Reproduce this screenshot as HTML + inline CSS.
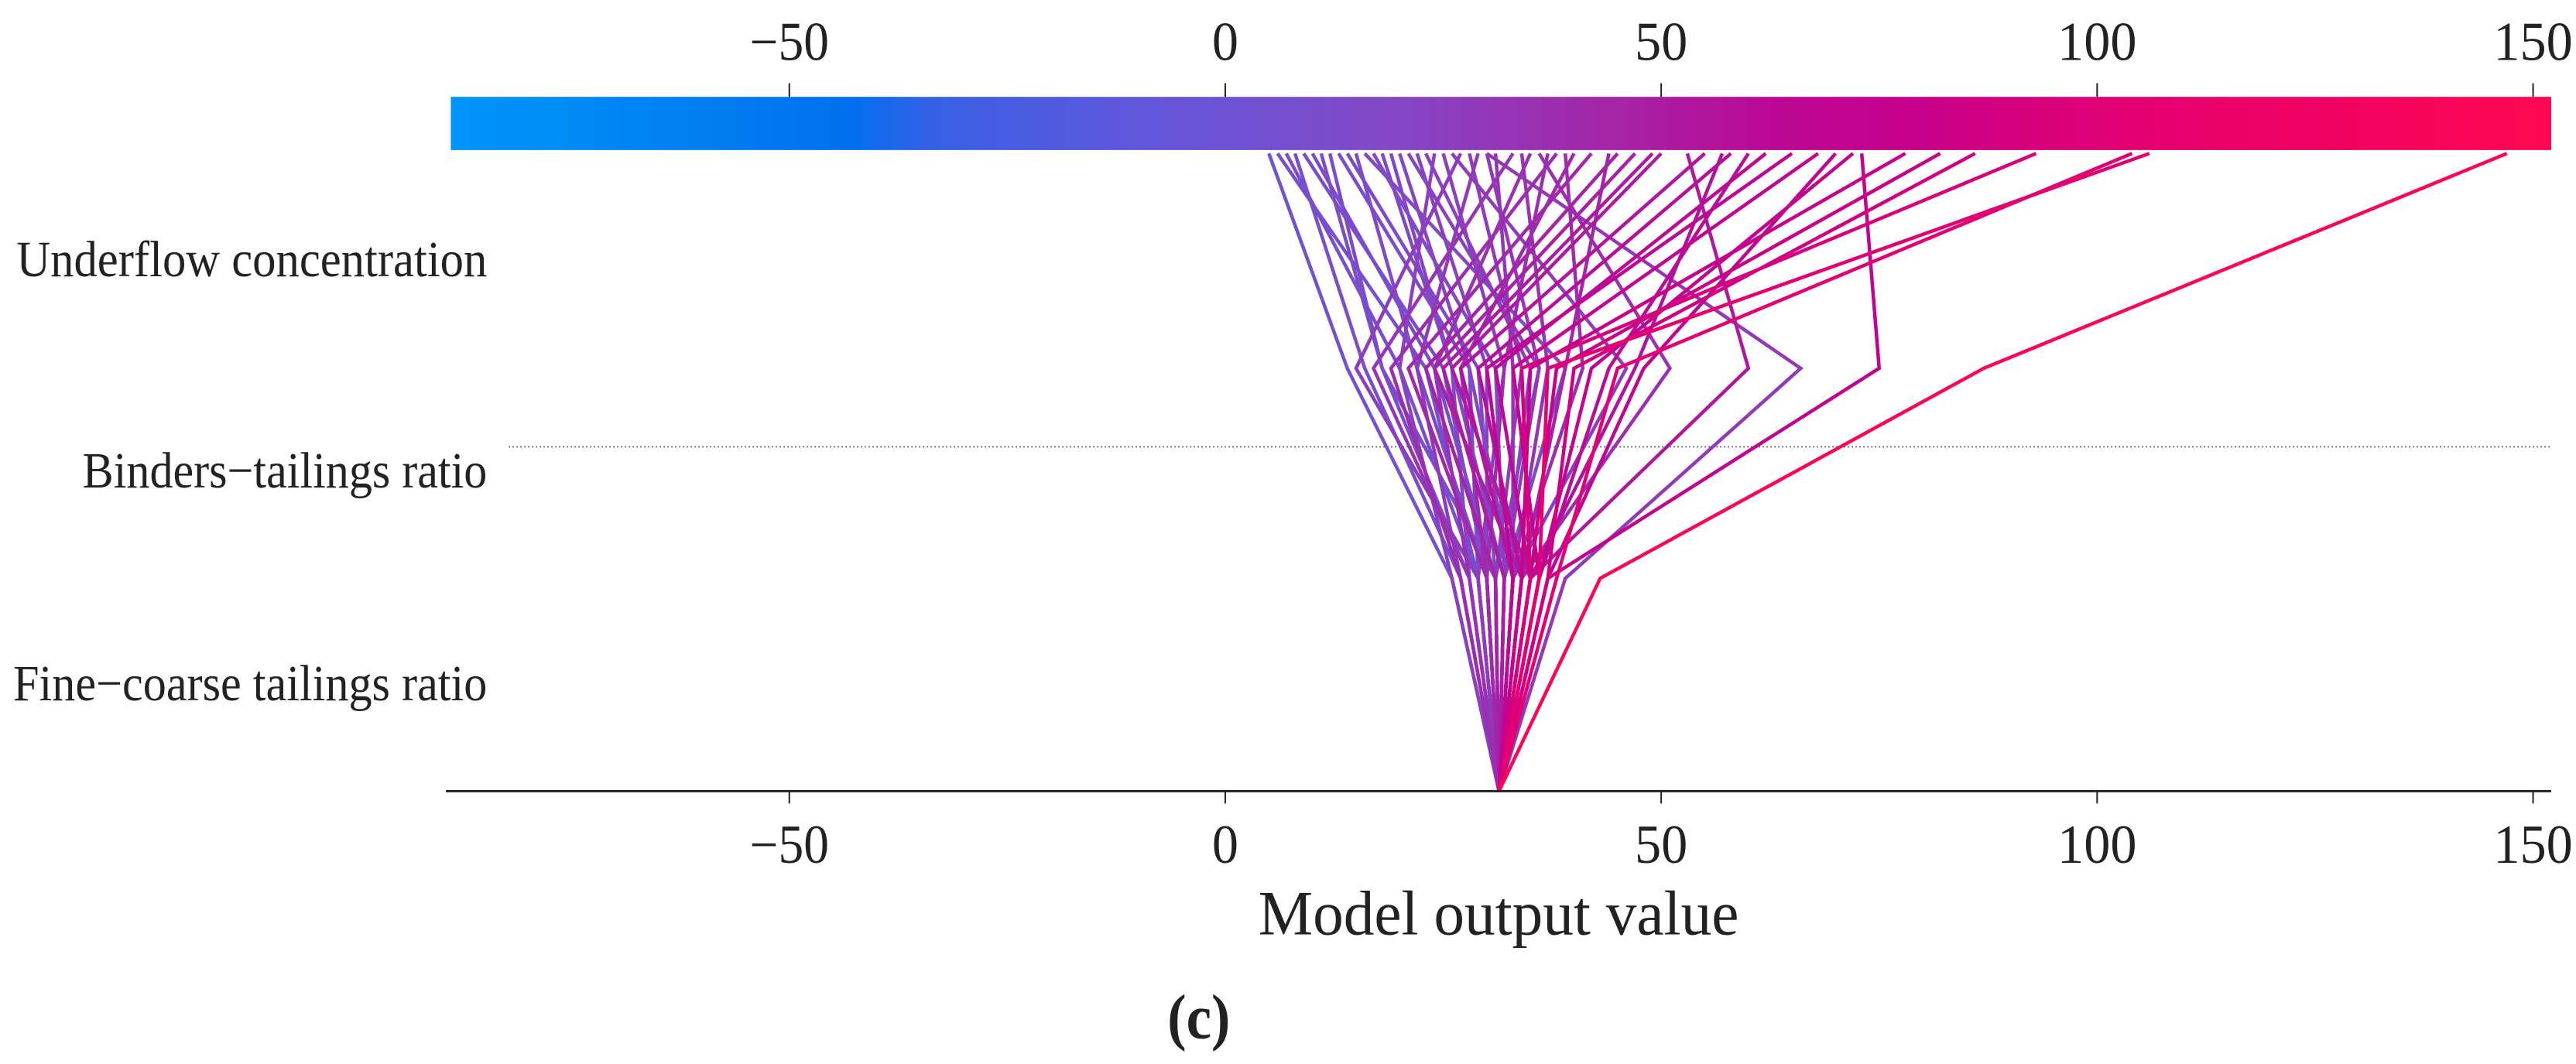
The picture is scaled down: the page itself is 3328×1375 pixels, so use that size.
<!DOCTYPE html>
<html><head><meta charset="utf-8"><style>
html,body{margin:0;padding:0;background:#fff;}
svg{display:block;}
text{font-family:"Liberation Serif",serif;fill:#222;}
</style></head><body>
<svg id="chart" width="3328" height="1375" viewBox="0 0 1560 1560" preserveAspectRatio="none" xmlns="http://www.w3.org/2000/svg">
<defs>
<linearGradient id="cbar" x1="0" x2="1" y1="0" y2="0">
<stop offset="0" stop-color="#0095fa"/>
<stop offset="0.15" stop-color="#0078ef"/>
<stop offset="0.19" stop-color="#0070ee"/>
<stop offset="0.23" stop-color="#3760e6"/>
<stop offset="0.35" stop-color="#6a55d8"/>
<stop offset="0.45" stop-color="#8347c6"/>
<stop offset="0.55" stop-color="#a425a8"/>
<stop offset="0.63" stop-color="#bc0896"/>
<stop offset="0.7" stop-color="#c8008a"/>
<stop offset="0.8" stop-color="#e40072"/>
<stop offset="1" stop-color="#ff0650"/>
</linearGradient>
</defs>
<rect x="273" y="142" width="1272" height="78" fill="url(#cbar)"/>
<line x1="308" y1="655" x2="1545" y2="655" stroke="#777" stroke-width="2" stroke-dasharray="2,3" vector-effect="non-scaling-stroke"/>
<g id="lines"></g>
<line x1="270" y1="1160" x2="1545" y2="1160" stroke="#222" stroke-width="3" vector-effect="non-scaling-stroke"/>
<g id="ticks"></g>
<text x="10" y="405" font-size="75" textLength="285" lengthAdjust="spacingAndGlyphs">Underflow concentration</text>
<text x="50" y="715" font-size="75" textLength="245" lengthAdjust="spacingAndGlyphs">Binders−tailings ratio</text>
<text x="8" y="1027" font-size="75" textLength="287" lengthAdjust="spacingAndGlyphs">Fine−coarse tailings ratio</text>
<text x="762" y="1370" font-size="92" textLength="291" lengthAdjust="spacingAndGlyphs">Model output value</text>
<text x="707" y="1522" font-size="92" font-weight="bold" textLength="38" lengthAdjust="spacingAndGlyphs">(c)</text>
</svg>
<script>
const tickValues = [-50, 0, 50, 100, 150];
const tickLabels = ["−50", "0", "50", "100", "150"];
const baseValue = 31.4;
const fineOut = [43,39,37,35,34,33,36,35,26,27,28,29,30,31,32,33,30,29,31,32,28,27,30,31,32,33,34,35,36,34,35,37,38,36,33,29,28,30,31,32,26,27,33,34,35,31,30,29,32,33,36,37,34,30,28,31,32,29,33,35];
const bindersOut = [87,66,75,60,51,46,37,34,14,16,18,20,22,24,26,28,30,32,34,36,17,19,21,23,25,27,29,31,33,35,38,40,45,42,30,15,24,27,29,31,20,22,33,24,26,18,25,28,35,37,44,48,39,32,26,36,39,23,41,47];
const underflowOut = [147,30,73,53,36,26,106,93,5,8,12,7,15,10,18,20,22,25,28,30,33,38,42,45,49,55,58,62,68,78,82,86,104,72,65,27,35,40,14,17,24,29,31,47,50,11,9,13,23,34,60,70,44,37,19,21,16,6,39,57];

const NS = "http://www.w3.org/2000/svg";
function xScale(v){ return 742 + (v - 0) * 5.28; }
const levels = [1160, 848, 540, 225];
const cstops = [[-89,[0,149,250]],[-55,[0,120,239]],[-48,[0,112,238]],[-33,[55,96,230]],[-5,[106,85,216]],[19,[131,71,198]],[44,[164,37,168]],[63,[188,8,150]],[80,[200,0,138]],[104,[228,0,114]],[152,[255,6,80]]];
function color(v){
  if(v<=cstops[0][0]) return "rgb("+cstops[0][1]+")";
  for(let i=1;i<cstops.length;i++){
    if(v<=cstops[i][0]){
      const a=cstops[i-1],b=cstops[i],t=(v-a[0])/(b[0]-a[0]);
      const c=a[1].map((x,k)=>Math.round(x+(b[1][k]-x)*t));
      return "rgb("+c.join(",")+")";
    }
  }
  return "rgb("+cstops[cstops.length-1][1]+")";
}
const g = document.getElementById("lines");
const order = underflowOut.map((v,i)=>i).sort((a,b)=>underflowOut[a]-underflowOut[b]);
order.forEach(i=>{
  const vals=[baseValue,fineOut[i],bindersOut[i],underflowOut[i]];
  const p=document.createElementNS(NS,"polyline");
  p.setAttribute("points", vals.map((v,k)=>xScale(v)+","+levels[k]).join(" "));
  p.setAttribute("fill","none");
  p.setAttribute("stroke",color(underflowOut[i]));
  p.setAttribute("stroke-width","4.5");
  p.setAttribute("stroke-linejoin","miter");
  p.setAttribute("vector-effect","non-scaling-stroke");
  
  
  g.appendChild(p);
});
const tg = document.getElementById("ticks");
tickValues.forEach((v,i)=>{
  const x=xScale(v);
  [[122,142,88],[1160,1178,1265]].forEach(([y1,y2,ty],j)=>{
    const l=document.createElementNS(NS,"line");
    l.setAttribute("x1",x);l.setAttribute("x2",x);l.setAttribute("y1",y1);l.setAttribute("y2",y2);
    l.setAttribute("stroke","#222");l.setAttribute("stroke-width","2");l.setAttribute("vector-effect","non-scaling-stroke");
    
    
    tg.appendChild(l);
    const t=document.createElementNS(NS,"text");
    const w=tickLabels[i].length*16;
    t.setAttribute("x",x);t.setAttribute("y",ty);t.setAttribute("text-anchor","middle");
    t.setAttribute("font-size","80");
    t.setAttribute("textLength",w);t.setAttribute("lengthAdjust","spacingAndGlyphs");
    t.textContent=tickLabels[i];
    
    
    tg.appendChild(t);
  });
});
</script>
</body></html>
